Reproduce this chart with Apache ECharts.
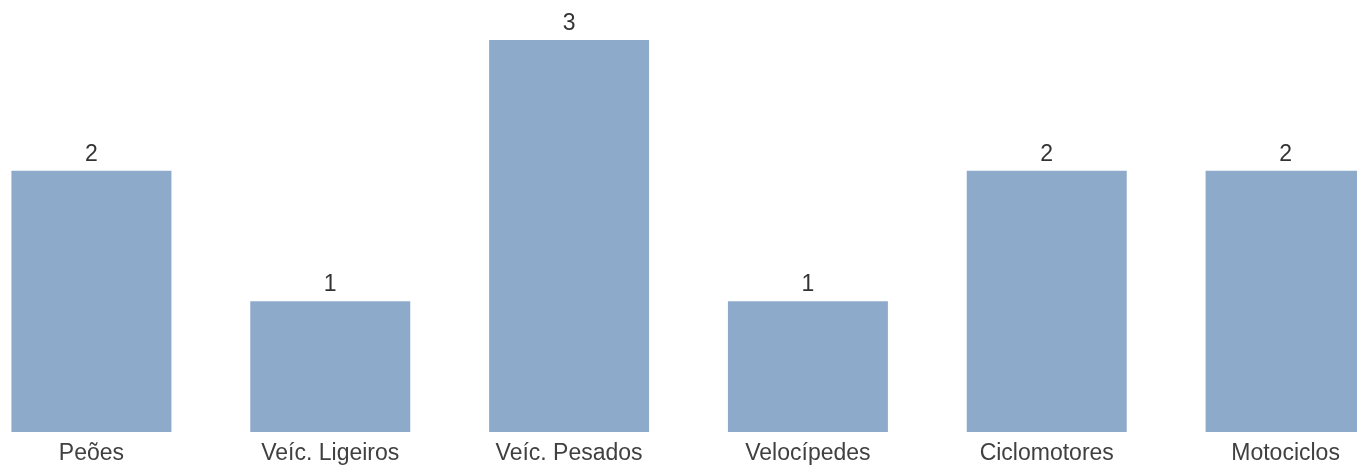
<!DOCTYPE html>
<html lang="pt">
<head>
  <meta charset="UTF-8">
  <title>Vítimas por tipo de veículo</title>
  <style>
    html, body { margin: 0; padding: 0; background: #fff; overflow: hidden; }
    /* a grelha começa antes do bordo esquerdo, como no original */
    #main { position: absolute; left: -28px; top: 0; width: 1433px; height: 465px; }
  </style>
</head>
<body>
<div id="main"></div>
<script src="https://cdn.jsdelivr.net/npm/echarts@6/dist/echarts.min.js"></script>
<script>
  var categorias = ['Peões', 'Veíc. Ligeiros', 'Veíc. Pesados', 'Velocípedes', 'Ciclomotores', 'Motociclos'];
  var valores = [2, 1, 3, 1, 2, 2];

  var myChart = echarts.init(document.getElementById('main'));

  var option = {
    backgroundColor: '#ffffff',
    animation: false,
    grid: { left: 0, right: 0, top: 40, bottom: 33, containLabel: false },
    xAxis: {
      type: 'category',
      data: categorias,
      axisLine: { show: false },
      axisTick: { show: false },
      axisLabel: {
        interval: 0,
        margin: 10,
        color: '#404040',
        fontSize: 23,
        fontFamily: 'Liberation Sans, Arial, sans-serif'
      }
    },
    yAxis: {
      type: 'value',
      min: 0,
      max: 3,
      show: false
    },
    series: [{
      type: 'bar',
      data: valores,
      barWidth: 160,
      itemStyle: { color: '#8eaacb' },
      label: {
        show: true,
        position: 'top',
        distance: 5,
        color: '#333333',
        fontSize: 23,
        fontFamily: 'Liberation Sans, Arial, sans-serif'
      }
    }]
  };

  myChart.setOption(option);
</script>
</body>
</html>
